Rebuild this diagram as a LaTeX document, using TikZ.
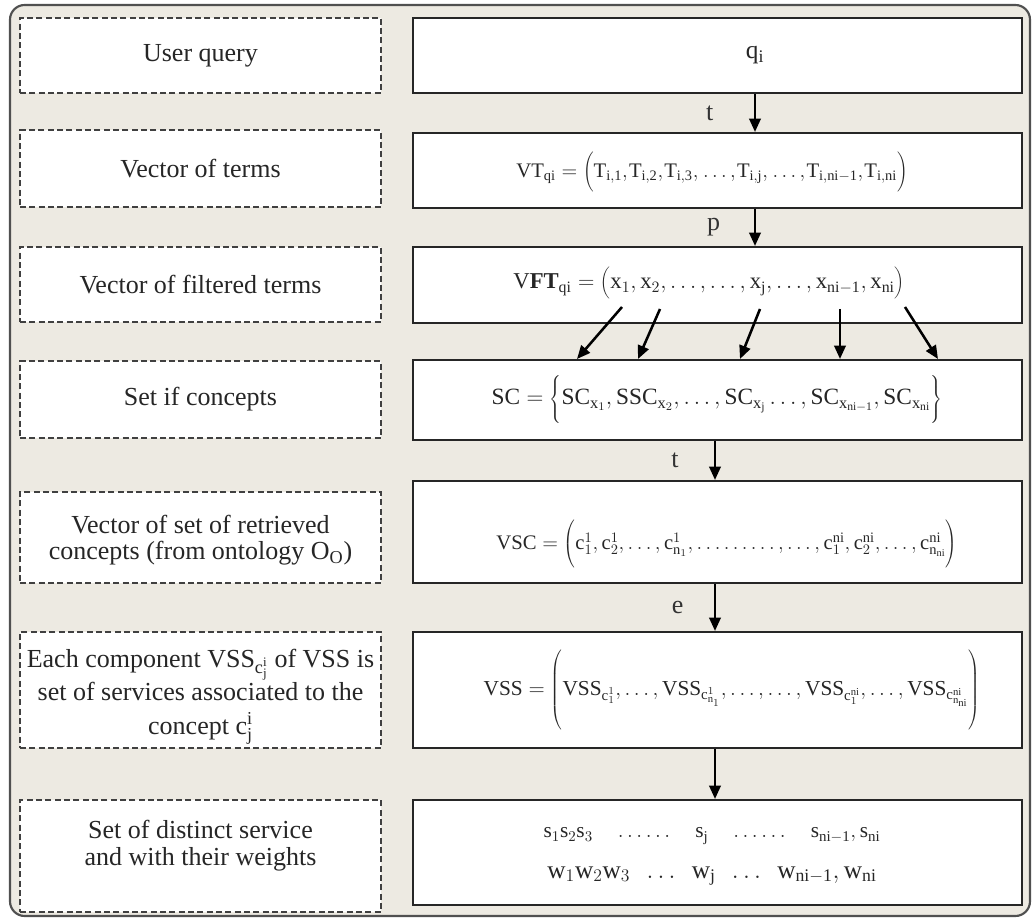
\RequirePackage{fix-cm}
\documentclass[tikz,border=0pt]{standalone}
\usepackage{fontspec}
\setmainfont{Liberation Serif}
\usetikzlibrary{arrows.meta,fit,shadows}
\definecolor{bgc}{RGB}{237,234,226}
\definecolor{framec}{RGB}{80,80,80}
\newcommand{\cma}{\mathord{,}\mskip1mu}
\begin{document}
\begin{tikzpicture}[x=0.75pt,y=-0.75pt,
  lbox/.style={draw=black!75, dash pattern=on 4.5pt off 2.5pt, line width=1.3pt, fill=white, inner sep=0pt},
  ltxt/.style={inner sep=0pt, align=center, font=\fontsize{19.5pt}{20pt}\selectfont, text=black!85},
  rbox/.style={draw=black!85, line width=1.5pt, fill=white, inner sep=0pt, drop shadow={shadow xshift=1pt,shadow yshift=-1pt,fill=black!40}},
  txt/.style={inner sep=0pt, text=black!85},
  arr/.style={line width=1.9pt, -{Triangle[length=10pt,width=8.5pt]}},
  lab/.style={inner sep=0pt, font=\fontsize{19.5pt}{24pt}\selectfont, text=black!80}]
\useasboundingbox (0,0) rectangle (1033,919);
\fill[white] (0,0) rectangle (1033,919);
\draw[framec, line width=1.6pt, fill=bgc, rounded corners=11pt] (10,5) rectangle (1030,916);
% left boxes
\node[lbox, fit={(20,18)(381,93)}] (l1) {};
\node[lbox, fit={(20,130)(381,207)}] (l2) {};
\node[lbox, fit={(20,247)(381,322)}] (l3) {};
\node[lbox, fit={(20,361)(381,438)}] (l4) {};
\node[lbox, fit={(20,492)(381,583)}] (l5) {};
\node[lbox, fit={(20,632)(381,748)}] (l6) {};
\node[lbox, fit={(20,800)(381,912)}] (l7) {};
\node[ltxt] (t1) at (l1.center) {User query};
\node[ltxt] (t2) at (l2.center) {Vector of terms};
\node[ltxt] (t3) at (l3.center) {Vector of filtered terms};
\node[ltxt] (t4) at (l4.center) {Set if concepts};
\node[ltxt, font=\fontsize{19.5pt}{20pt}\selectfont] (t5) at ([yshift=-2pt]l5.center) {Vector of set of retrieved\\concepts (from ontology $\mathrm{O}_{\mathrm{O}}$)};
\node[ltxt, font=\fontsize{19.5pt}{25pt}\selectfont] (t6) at ([yshift=-5pt]l6.center) {Each component VSS$_{\mathrm{c}^{\mathrm{i}}_{\mathrm{j}}}$ of VSS is\\set of services associated to the\\concept $\mathrm{c}^{\mathrm{i}}_{\mathrm{j}}$};
\node[ltxt, font=\fontsize{19.5pt}{20pt}\selectfont] (t7) at ([yshift=8pt]l7.center) {Set of distinct service\\and with their weights};
% right boxes
\node[rbox, fit={(413,18)(1022,93)}] (r1) {};
\node[rbox, fit={(413,133)(1022,208)}] (r2) {};
\node[rbox, fit={(413,247)(1022,323)}] (r3) {};
\node[rbox, fit={(413,360)(1022,440)}] (r4) {};
\node[rbox, fit={(413,481)(1022,583)}] (r5) {};
\node[rbox, fit={(413,632)(1022,748)}] (r6) {};
\node[rbox, fit={(413,800)(1022,905)}] (r7) {};
% right texts
\node[txt, font=\fontsize{19pt}{24pt}\selectfont] (qi) at (755,55) {$\mathrm{q}_{\mathrm{i}}$};
\node[txt, font=\fontsize{15.5pt}{18pt}\selectfont] (vt) at (712,172) {$\mathrm{VT}_{\mathrm{qi}}=\Bigg(\mathrm{T}_{\mathrm{i,1}}\cma\mathrm{T}_{\mathrm{i,2}}\cma\mathrm{T}_{\mathrm{i,3}}\cma\ldots\cma\mathrm{T}_{\mathrm{i,j}}\cma\ldots\cma\mathrm{T}_{\mathrm{i,ni-1}}\cma\mathrm{T}_{\mathrm{i,ni}}\Bigg)$};
\node[txt, font=\fontsize{17pt}{20pt}\selectfont] (vft) at (709,283) {$\mathrm{V}\mathbf{FT}_{\mathrm{qi}}=\bigg(\mathrm{x}_{1},\mathrm{x}_{2},\ldots,\ldots,\mathrm{x}_{\mathrm{j}},\ldots,\mathrm{x}_{\mathrm{ni-1}},\mathrm{x}_{\mathrm{ni}}\bigg)$};
\node[txt, font=\fontsize{17.5pt}{20pt}\selectfont] (sc) at (717,400) {$\mathrm{SC}=\left\{\vrule height 17pt depth 15pt width 0pt\mathrm{SC}_{\mathrm{x}_{1}},\mathrm{SSC}_{\mathrm{x}_{2}},\ldots,\mathrm{SC}_{\mathrm{x}_{\mathrm{j}}}\ldots,\mathrm{SC}_{\mathrm{x}_{\mathrm{ni-1}}},\mathrm{SC}_{\mathrm{x}_{\mathrm{ni}}}\right\}$};
\node[txt, font=\fontsize{15.5pt}{20pt}\selectfont] (vsc) at (727,545) {$\mathrm{VSC}=\left(\vrule height 16pt depth 15pt width 0pt\mathrm{c}^{1}_{1},\mathrm{c}^{1}_{2},\ldots,\mathrm{c}^{1}_{\mathrm{n}_{1}},\ldots\ldots\ldots,\ldots,\mathrm{c}^{\mathrm{ni}}_{1},\mathrm{c}^{\mathrm{ni}}_{2},\ldots,\mathrm{c}^{\mathrm{ni}}_{\mathrm{n}_{\mathrm{ni}}}\right)$};
\node[txt, font=\fontsize{16pt}{20pt}\selectfont] (vss) at (732,690) {$\mathrm{VSS}=\left(\vrule height 27pt depth 26pt width 0pt\mathrm{VSS}_{\mathrm{c}^{1}_{1}},\ldots,\mathrm{VSS}_{\mathrm{c}^{1}_{\mathrm{n}_{1}}},\ldots,\ldots,\mathrm{VSS}_{\mathrm{c}^{\mathrm{ni}}_{1}},\ldots,\mathrm{VSS}_{\mathrm{c}^{\mathrm{ni}}_{\mathrm{n}_{\mathrm{ni}}}}\right)$};
\node[txt, font=\fontsize{16pt}{20pt}\selectfont] (sline) at (712,836) {$\mathrm{s}_{1}\mathrm{s}_{2}\mathrm{s}_{3}\quad\ldots\ldots\quad\mathrm{s}_{\mathrm{j}}\quad\ldots\ldots\quad\mathrm{s}_{\mathrm{ni-1}},\mathrm{s}_{\mathrm{ni}}$};
\node[txt, font=\fontsize{19pt}{24pt}\selectfont] (wline) at (712,876) {$\mathrm{w}_{1}\mathrm{w}_{2}\mathrm{w}_{3}\hspace{9pt}\ldots\hspace{9pt}\mathrm{w}_{\mathrm{j}}\hspace{9pt}\ldots\hspace{9pt}\mathrm{w}_{\mathrm{ni-1}},\mathrm{w}_{\mathrm{ni}}$};
% arrow columns
\coordinate (ca) at (755,0);
\coordinate (cb) at (715,0);
\draw[arr] (ca |- r1.south) -- (ca |- r2.north) node[lab, midway, xshift=-34pt] {t};
\draw[arr] (ca |- r2.south) -- (ca |- r3.north) node[lab, midway, xshift=-31pt] {p};
\draw[arr] (cb |- r4.south) -- (cb |- r5.north) node[lab, midway, xshift=-30pt] {t};
\draw[arr] (cb |- r5.south) -- (cb |- r6.north) node[lab, midway, xshift=-28pt] {e};
\draw[arr] (cb |- r6.south) -- (cb |- r7.north);
% fan arrows
\coordinate (s1) at (622,307); \coordinate (e1) at (577,0);
\coordinate (s2) at (660,309); \coordinate (e2) at (638,0);
\coordinate (s3) at (760,309); \coordinate (e3) at (740,0);
\coordinate (s4) at (840,309); \coordinate (e4) at (840,0);
\coordinate (s5) at (905,307); \coordinate (e5) at (938,0);
\foreach \i in {1,...,5} \draw[arr] (s\i) -- (e\i |- r4.north);
\end{tikzpicture}
\end{document}
